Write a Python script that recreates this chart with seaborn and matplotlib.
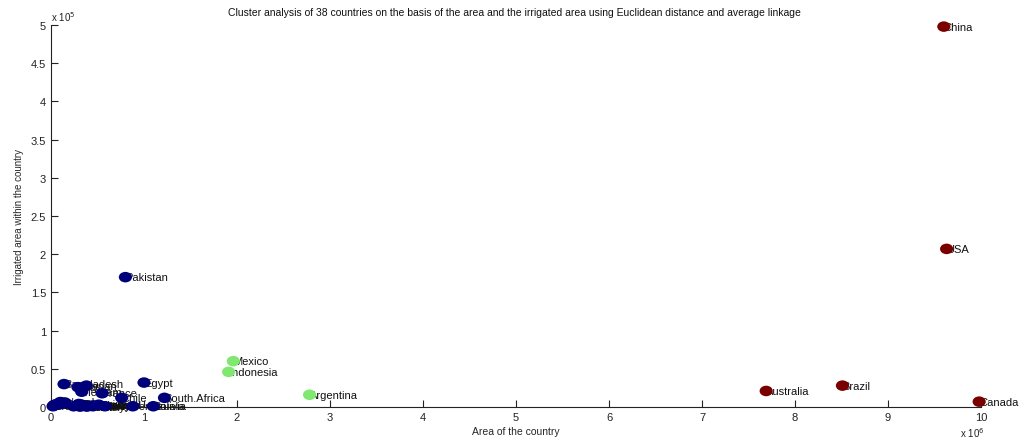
import numpy as np
import pandas as pd
import matplotlib
matplotlib.use('Agg')
import matplotlib.pyplot as plt
import seaborn as sns
from matplotlib.path import Path
from matplotlib.transforms import Affine2D
from matplotlib.ticker import FuncFormatter, MultipleLocator

# ── Data (area in km², irrigated area in km²) ──────────────────────────
countries = ['China', 'USA', 'Brazil', 'Australia', 'Canada',
             'Mexico', 'Indonesia', 'Argentina',
             'Pakistan', 'Egypt', 'South.Africa', 'Bangladesh', 'Japan',
             'Italy', 'Vietnam', 'France', 'Chile', 'Bolivia', 'Korea',
             'Netherlands', 'Belgium', 'Denmark', 'Israel', 'Sri.Lanka',
             'Nepal', 'Greece', 'Portugal', 'Germany', 'UK', 'Poland',
             'Malaysia', 'Philippines', 'Thailand', 'Sweden', 'Norway',
             'Kenya', 'Morocco', 'Venezuela']
area = [9.60e6, 9.63e6, 8.51e6, 7.69e6, 9.98e6,
        1.96e6, 1.91e6, 2.78e6,
        0.80e6, 1.00e6, 1.22e6, 0.14e6, 0.38e6,
        0.29e6, 0.33e6, 0.55e6, 0.76e6, 1.10e6, 0.10e6,
        0.04e6, 0.03e6, 0.043e6, 0.022e6, 0.066e6,
        0.147e6, 0.132e6, 0.092e6, 0.357e6, 0.243e6, 0.313e6,
        0.33e6, 0.30e6, 0.513e6, 0.45e6, 0.385e6,
        0.58e6, 0.45e6, 0.88e6]
irrigated = [4.98e5, 2.07e5, 0.28e5, 0.21e5, 0.07e5,
             0.60e5, 0.46e5, 0.16e5,
             1.70e5, 0.32e5, 0.12e5, 0.30e5, 0.28e5,
             0.26e5, 0.20e5, 0.18e5, 0.12e5, 0.01e5, 0.065e5,
             0.03e5, 0.02e5, 0.025e5, 0.01e5, 0.04e5,
             0.06e5, 0.05e5, 0.035e5, 0.02e5, 0.01e5, 0.005e5,
             0.03e5, 0.04e5, 0.03e5, 0.01e5, 0.005e5,
             0.01e5, 0.02e5, 0.01e5]
cluster = [3] * 5 + [2] * 3 + [1] * 30

df = pd.DataFrame({'Country': countries, 'Area': area,
                   'Irrigated': irrigated, 'Cluster': cluster})

PALETTE = {1: '#00007a', 2: '#80e870', 3: '#7a0000'}

# ellipse marker (MATLAB-like stretched dots)
ellipse = Path.unit_circle().transformed(Affine2D().scale(1.0, 0.8))

sns.set_style('white')
plt.rcParams['font.family'] = ['Liberation Sans', 'DejaVu Sans']

fig = plt.figure(figsize=(10.22, 4.39), dpi=100)
ax = fig.add_axes([0.0499, 0.0706, 0.910, 0.870])

for _, r in df.iterrows():
    ax.text(r['Area'], r['Irrigated'], r['Country'], fontsize=8,
            ha='left', va='center', color='#111111', zorder=3)

sns.scatterplot(data=df, x='Area', y='Irrigated', hue='Cluster',
                palette=PALETTE, marker=ellipse, s=90, linewidth=0,
                legend=False, ax=ax, zorder=4, clip_on=False)

ax.set_xlim(0, 10e6)
ax.set_ylim(0, 5e5)
ax.xaxis.set_major_locator(MultipleLocator(1e6))
ax.yaxis.set_major_locator(MultipleLocator(0.5e5))
ax.xaxis.set_major_formatter(FuncFormatter(lambda v, p: f'{v/1e6:g}'))
ax.yaxis.set_major_formatter(FuncFormatter(lambda v, p: f'{v/1e5:g}'))

for s in ['top', 'right']:
    ax.spines[s].set_visible(False)
for s in ['left', 'bottom']:
    ax.spines[s].set_color('#222222')
    ax.spines[s].set_linewidth(0.8)
ax.tick_params(direction='in', length=5, width=0.8, labelsize=8,
               colors='#222222', left=True, bottom=True)

ax.text(0.0, 1.005, r'x 10$^5$', transform=ax.transAxes, fontsize=7,
        ha='left', va='bottom', color='#222222')
ax.text(1.004, -0.066, r'x 10$^6$', transform=ax.transAxes, fontsize=7,
        ha='right', va='center', color='#222222')

ax.set_xlabel('Area of the country', fontsize=7.5, labelpad=3)
ax.set_ylabel('Irrigated area within the country', fontsize=7, labelpad=5)
fig.text(0.503, 0.97, 'Cluster analysis of 38 countries on the basis of the area '
         'and the irrigated area using Euclidean distance and average linkage',
         fontsize=7.5, ha='center', va='center', color='#111111')

fig.savefig('out.png', dpi=100, facecolor='white')
plt.close(fig)
